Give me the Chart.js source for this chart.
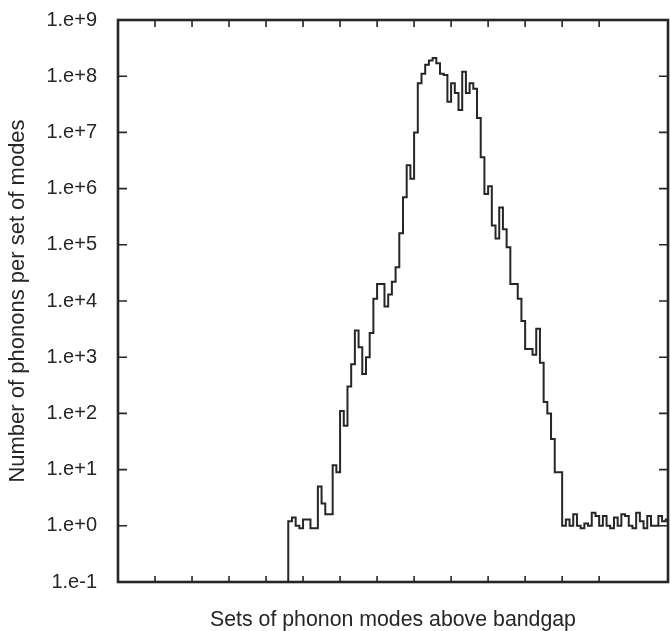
<!DOCTYPE html>
<html>
<head>
<meta charset="utf-8">
<script src="https://cdn.jsdelivr.net/npm/chart.js@4"></script>
<style>
  html, body { margin: 0; padding: 0; background: #fff; }
  #wrap { width: 671px; height: 631px; position: relative; }
</style>
</head>
<body>
<div id="wrap"><canvas id="chart"></canvas></div>
<script>
// first bin that has phonons; bins before it are empty
const firstBin = 46;

// number of phonons in each set of modes, one value per bin, from firstBin on
const phononCounts = [
  1.2, 1.4, 1.0, 0.9, 1.3, 1.3, 0.9, 0.9,            // 46-53
  5, 2.5, 1.6, 1.6, 12, 9, 110, 60, 300, 750,        // 54-63
  3000, 1500, 500, 1000, 2700, 1.1e4, 2e4, 2e4,      // 64-71
  8000, 1.3e4, 2.2e4, 4e4, 1.6e5, 7e5, 2.6e6, 1.5e6, // 72-79
  1e7, 7.5e7, 1.1e8, 1.6e8, 1.9e8, 2.1e8, 1.7e8,     // 80-86
  1.1e8, 1.05e8, 3.5e7, 7.5e7, 5e7, 2.5e7, 1.2e8,    // 87-93
  5e7, 7.5e7, 6e7, 1.8e7, 3.6e6, 8e5, 1.1e6,         // 94-100
  2.2e5, 1.3e5, 4.6e5, 1.9e5, 9e4, 2e4, 2e4, 1.1e4,  // 101-108
  4400, 1400, 1400, 1100, 3200, 800, 160, 100,       // 109-116
  35, 9, 9,                                          // 117-119
  1.0, 1.3, 1.0, 1.6, 1.0, 0.9, 1.1, 1.0, 1.7, 1.5,  // 120-129
  1.0, 1.5, 1.0, 0.9, 1.4, 1.0, 1.6, 1.5, 1.0, 0.9,  // 130-139
  1.7, 1.2, 0.9, 1.5, 1.0, 1.0, 1.5, 1.2, 1.3        // 140-148
];

// x axis: sets of modes, inner tick every 10 sets
const xMin = 0;
const xMax = 148.6;
const xTickStep = 10;

// y axis: decades and their labels
const yTickValues = [0.1, 1, 10, 100, 1e3, 1e4, 1e5, 1e6, 1e7, 1e8, 1e9];
const yTickLabels = ['1.e-1', '1.e+0', '1.e+1', '1.e+2', '1.e+3', '1.e+4',
                     '1.e+5', '1.e+6', '1.e+7', '1.e+8', '1.e+9'];

const ink = '#262626';
const fontFamily = 'Liberation Sans, Arial, sans-serif';

// step histogram: start from the floor, then one point per bin edge
const points = [{ x: firstBin, y: yTickValues[0] }];
phononCounts.forEach((v, i) => points.push({ x: firstBin + i, y: v }));
points.push({ x: firstBin + phononCounts.length, y: phononCounts[phononCounts.length - 1] });

// frame plus inward ticks on all four sides
const framePlugin = {
  id: 'frame',
  afterDatasetsDraw(chart) {
    const { ctx, chartArea: a, scales: { x, y } } = chart;
    ctx.save();
    ctx.strokeStyle = ink;
    ctx.lineWidth = 1.6;
    ctx.beginPath();
    x.ticks.forEach(t => {
      if (t.value <= xMin || t.value >= xMax) return;
      const px = x.getPixelForValue(t.value);
      ctx.moveTo(px, a.bottom);
      ctx.lineTo(px, a.bottom - 6);
      ctx.moveTo(px, a.top);
      ctx.lineTo(px, a.top + 7);
    });
    yTickValues.forEach(v => {
      const py = y.getPixelForValue(v);
      ctx.moveTo(a.left, py);
      ctx.lineTo(a.left + 9, py);
      ctx.moveTo(a.right, py);
      ctx.lineTo(a.right - 9, py);
    });
    ctx.stroke();
    ctx.lineWidth = 2.6;
    ctx.strokeRect(a.left, a.top, a.right - a.left, a.bottom - a.top);
    ctx.restore();
  }
};

new Chart(document.getElementById('chart'), {
  type: 'line',
  data: {
    datasets: [{
      data: points,
      stepped: true,
      borderColor: ink,
      borderWidth: 2,
      pointRadius: 0,
      fill: false,
      tension: 0
    }]
  },
  options: {
    responsive: true,
    maintainAspectRatio: false,
    animation: false,
    layout: { padding: { top: 20, right: 3, left: 0, bottom: 0 } },
    plugins: {
      legend: { display: false },
      tooltip: { enabled: false }
    },
    scales: {
      x: {
        type: 'linear',
        min: xMin,
        max: xMax,
        grid: { display: false, drawTicks: false },
        border: { display: false },
        ticks: { display: false, stepSize: xTickStep },
        title: {
          display: true,
          text: 'Sets of phonon modes above bandgap',
          color: ink,
          font: { family: fontFamily, size: 21.3 },
          padding: { top: 0, bottom: -2 }
        },
        afterFit(scale) { scale.height = 49; }
      },
      y: {
        type: 'logarithmic',
        min: yTickValues[0],
        max: yTickValues[yTickValues.length - 1],
        grid: { display: false, drawTicks: false },
        border: { display: false },
        afterBuildTicks(scale) {
          scale.ticks = yTickValues.map(v => ({ value: v }));
        },
        ticks: {
          color: ink,
          padding: 21,
          autoSkip: false,
          font: { family: fontFamily, size: 20 },
          callback: (v, i) => yTickLabels[i]
        },
        title: {
          display: true,
          text: 'Number of phonons per set of modes',
          color: ink,
          font: { family: fontFamily, size: 22 },
          padding: { top: 5, bottom: 0 }
        },
        afterFit(scale) {
          scale.width = 118;
          // tick padding would otherwise push the plot down
          scale.paddingTop = 0;
          scale.paddingBottom = 0;
        }
      }
    }
  },
  plugins: [framePlugin]
});
</script>
</body>
</html>
